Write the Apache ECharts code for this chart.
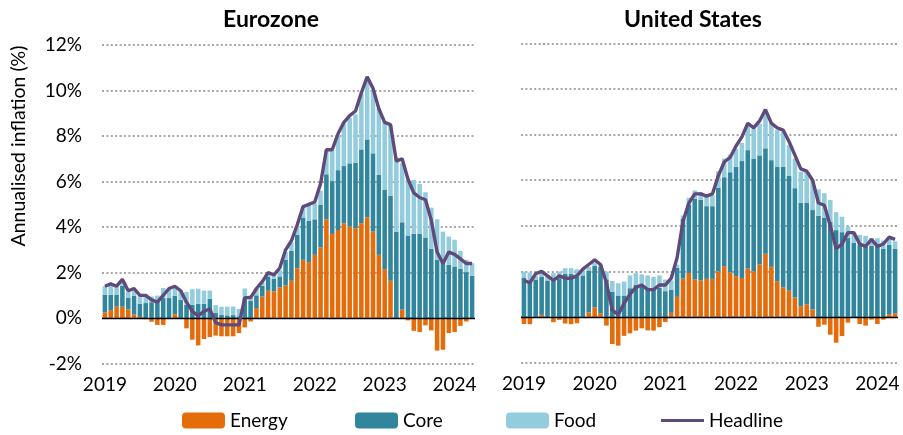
<!DOCTYPE html>
<html>
<head>
<meta charset="utf-8">
<script src="https://cdn.jsdelivr.net/npm/echarts@6/dist/echarts.min.js"></script>
<style>
    html, body {margin: 0; padding: 0; background: #fff;}
    #chart {width: 903px; height: 435px;}
</style>
</head>
<body>
<div id="chart"></div>
<script>
// monthly, Jan 2019 - Apr 2024
var years  = ['2019', '2020', '2021', '2022', '2023', '2024'];
var months = ['01', '02', '03', '04', '05', '06', '07', '08', '09', '10', '11', '12'];
var categories = [];
years.forEach(function (y) {
    months.forEach(function (m, k) {
        if (y !== '2024' || k < 4) categories.push(y + '-' + m);
    });
});

var yMin = -2, yMax = 12, yStep = 2;

// Eurozone
var ezEnergy = [
    0.25, 0.35, 0.50, 0.50, 0.38, 0.16, 0.05, -0.05, -0.16, -0.30, -0.30, 0.00,
    0.17, -0.04, -0.45, -0.95, -1.20, -0.92, -0.83, -0.77, -0.80, -0.80, -0.80, -0.66,
    -0.41, -0.15, 0.44, 0.95, 1.20, 1.17, 1.35, 1.43, 1.64, 2.19, 2.56, 2.46,
    2.78, 3.11, 4.34, 3.70, 3.87, 4.17, 4.02, 3.95, 4.17, 4.43, 3.80, 2.78,
    2.15, 1.64, -0.04, 0.37, -0.10, -0.56, -0.61, -0.32, -0.54, -1.43, -1.39, -0.66,
    -0.61, -0.34, -0.15, -0.03
];
var ezCore = [
    0.77, 0.67, 0.52, 0.92, 0.52, 0.82, 0.58, 0.66, 0.70, 0.72, 0.88, 0.88,
    0.81, 0.80, 0.58, 0.58, 0.63, 0.63, 0.85, 0.23, 0.15, 0.12, 0.13, 0.08,
    0.85, 0.75, 0.56, 0.47, 0.63, 0.56, 0.48, 1.13, 1.31, 1.46, 1.86, 1.81,
    1.56, 1.86, 1.98, 2.32, 2.63, 2.51, 2.78, 2.87, 3.24, 3.42, 3.44, 3.51,
    3.48, 3.73, 3.80, 3.84, 3.63, 3.70, 3.70, 3.52, 3.04, 2.55, 2.49, 2.34,
    2.27, 2.16, 2.02, 1.86
];
var ezFood = [
    0.38, 0.40, 0.36, 0.18, 0.27, 0.24, 0.32, 0.36, 0.25, 0.27, 0.44, 0.39,
    0.40, 0.42, 0.57, 0.69, 0.66, 0.58, 0.36, 0.34, 0.35, 0.38, 0.38, 0.32,
    0.45, 0.25, 0.30, 0.16, 0.15, 0.17, 0.27, 0.34, 0.37, 0.40, 0.48, 0.68,
    0.70, 0.63, 1.06, 1.36, 1.55, 1.87, 2.00, 2.13, 2.46, 2.65, 2.76, 2.91,
    3.00, 3.11, 3.26, 2.59, 2.44, 2.37, 2.20, 2.01, 1.81, 1.79, 1.31, 1.24,
    1.17, 0.79, 0.54, 0.55
];
var ezHeadline = [
    1.4, 1.5, 1.4, 1.7, 1.2, 1.3, 1.0, 1.0, 0.8, 0.7, 1.0, 1.3,
    1.4, 1.2, 0.7, 0.3, 0.1, 0.3, 0.4, -0.2, -0.3, -0.3, -0.3, -0.3,
    0.9, 0.9, 1.3, 1.6, 2.0, 1.9, 2.2, 3.0, 3.4, 4.1, 4.9, 5.0,
    5.1, 5.9, 7.4, 7.4, 8.1, 8.6, 8.9, 9.1, 9.9, 10.6, 10.1, 9.2,
    8.6, 8.5, 6.9, 7.0, 6.1, 5.5, 5.3, 5.2, 4.3, 2.9, 2.4, 2.9,
    2.8, 2.6, 2.4, 2.4
];

// United States
var usEnergy = [
    -0.31, -0.32, 0.00, 0.09, 0.00, -0.23, -0.13, -0.29, -0.32, -0.28, -0.03, 0.20,
    0.42, 0.16, -0.38, -1.19, -1.26, -0.83, -0.72, -0.60, -0.50, -0.59, -0.60, -0.45,
    -0.22, 0.18, 0.88, 1.68, 1.93, 1.64, 1.60, 1.67, 1.67, 2.00, 2.23, 1.96,
    1.79, 1.71, 2.12, 2.00, 2.30, 2.77, 2.20, 1.57, 1.30, 1.15, 0.85, 0.47,
    0.56, 0.33, -0.43, -0.34, -0.78, -1.13, -0.84, -0.25, 0.00, -0.31, -0.38, -0.12,
    -0.31, -0.12, 0.12, 0.15
];
var usCore = [
    1.73, 1.60, 1.62, 1.68, 1.60, 1.65, 1.70, 1.89, 1.89, 1.77, 1.82, 1.84,
    1.82, 2.04, 1.65, 1.11, 0.94, 0.94, 1.26, 1.41, 1.43, 1.23, 1.23, 1.27,
    1.13, 1.02, 1.27, 2.62, 3.00, 3.54, 3.55, 3.19, 3.19, 3.67, 3.90, 4.39,
    4.80, 5.13, 5.20, 4.95, 4.79, 4.63, 4.68, 5.03, 5.28, 5.04, 4.80, 4.54,
    4.46, 4.36, 4.44, 4.36, 4.18, 3.81, 3.72, 3.46, 3.26, 3.18, 3.08, 3.12,
    3.10, 3.00, 3.04, 2.85
];
var usFood = [
    0.26, 0.35, 0.20, 0.21, 0.24, 0.27, 0.29, 0.25, 0.25, 0.32, 0.23, 0.16,
    0.12, 0.10, 0.34, 0.47, 0.54, 0.61, 0.56, 0.51, 0.44, 0.59, 0.53, 0.55,
    0.51, 0.40, 0.15, 0.15, 0.30, 0.37, 0.33, 0.41, 0.47, 0.73, 0.82, 0.78,
    0.79, 0.80, 1.13, 1.31, 1.39, 1.50, 1.67, 1.60, 1.54, 1.35, 1.30, 1.36,
    1.35, 1.31, 1.16, 1.07, 0.95, 0.79, 0.68, 0.52, 0.41, 0.42, 0.48, 0.33,
    0.35, 0.35, 0.33, 0.32
];
var usHeadline = [
    1.6, 1.5, 1.9, 2.0, 1.8, 1.6, 1.8, 1.7, 1.7, 1.8, 2.1, 2.3,
    2.5, 2.3, 1.5, 0.3, 0.1, 0.6, 1.0, 1.3, 1.4, 1.2, 1.2, 1.4,
    1.4, 1.7, 2.6, 4.2, 5.0, 5.4, 5.4, 5.3, 5.4, 6.2, 6.8, 7.0,
    7.5, 7.9, 8.5, 8.3, 8.6, 9.1, 8.5, 8.3, 8.2, 7.7, 7.1, 6.5,
    6.4, 6.0, 5.0, 4.9, 4.0, 3.0, 3.2, 3.7, 3.7, 3.2, 3.1, 3.4,
    3.1, 3.2, 3.5, 3.4
];

var seriesNames = ['Energy', 'Core', 'Food', 'Headline'];
var colors      = ['#E46C0A', '#31859C', '#93CDDD', '#604A7B'];
var FONT        = 'Lato';

function xAxisFor(idx) {
    return {
        type       : 'category',
        gridIndex  : idx,
        data       : categories,
        boundaryGap: true,
        axisLine   : {show: false},
        axisTick   : {show: false},
        axisLabel  : {
            interval  : 11,
            margin    : 12,
            fontSize  : 19,
            fontFamily: FONT,
            color     : '#000',
            formatter : function (v) { return v.slice(0, 4); }
        },
        splitLine  : {show: false}
    };
}

function yAxisFor(idx, showLabels) {
    return {
        type     : 'value',
        gridIndex: idx,
        min      : yMin,
        max      : yMax,
        interval : yStep,
        axisLine : {show: false},
        axisTick : {show: false},
        axisLabel: {
            show      : showLabels,
            margin    : 20,
            fontSize  : 19,
            fontFamily: FONT,
            color     : '#000',
            formatter : '{value}%'
        },
        splitLine: {lineStyle: {color: '#a6a6a6', width: 2, type: [2, 2.4]}}
    };
}

function panelSeries(idx, stack, energy, core, food, headline) {
    return [
        {name: seriesNames[0], type: 'bar', stack: stack, xAxisIndex: idx, yAxisIndex: idx,
            data: energy, barCategoryGap: '22%', itemStyle: {color: colors[0]}},
        {name: seriesNames[1], type: 'bar', stack: stack, xAxisIndex: idx, yAxisIndex: idx,
            data: core, itemStyle: {color: colors[1]}},
        {name: seriesNames[2], type: 'bar', stack: stack, xAxisIndex: idx, yAxisIndex: idx,
            data: food, itemStyle: {color: colors[2]}},
        {name: seriesNames[3], type: 'line', xAxisIndex: idx, yAxisIndex: idx,
            data: headline, symbol: 'none', showSymbol: false, z: 5,
            lineStyle: {color: colors[3], width: 3.4},
            itemStyle: {color: colors[3]},
            markLine: {
                silent   : true,
                symbol   : ['none', 'none'],
                label    : {show: false},
                lineStyle: {color: '#000', width: 1.3, type: 'solid'},
                data     : [{yAxis: 0}]
            }}
    ];
}

function legendAt(name, left, isLine) {
    return {
        data      : [isLine ? {name: name, icon: 'rect'} : name],
        left      : left,
        top       : 411,
        padding   : 0,
        itemWidth : 43,
        itemHeight: isLine ? 3 : 16,
        textStyle : {fontSize: 19, fontFamily: FONT, color: '#000'}
    };
}

var myChart = echarts.init(document.getElementById('chart'));
var option  = {
    animation: false,
    color    : colors,
    grid     : [
        {left: 102, top: 45, width: 373, height: 318.6},
        {left: 521, top: 43.5, width: 377, height: 319}
    ],
    xAxis    : [xAxisFor(0), xAxisFor(1)],
    yAxis    : [yAxisFor(0, true), yAxisFor(1, false)],
    legend   : [
        legendAt('Energy', 182),
        legendAt('Core', 355),
        legendAt('Food', 506),
        legendAt('Headline', 661, true)
    ],
    graphic  : [
        {type: 'text', x: 271, y: 20,
            style: {text: 'Eurozone', fontSize: 23, fontWeight: 'bold', fontFamily: FONT, fill: '#000',
                textAlign: 'center', textVerticalAlign: 'middle', align: 'center', verticalAlign: 'middle'}},
        {type: 'text', x: 693, y: 20,
            style: {text: 'United States', fontSize: 23, fontWeight: 'bold', fontFamily: FONT, fill: '#000',
                textAlign: 'center', textVerticalAlign: 'middle', align: 'center', verticalAlign: 'middle'}},
        {type: 'text', x: 19, y: 146, rotation: Math.PI / 2,
            style: {text: 'Annualised inflation (%)', fontSize: 19.5, fontFamily: FONT, fill: '#000',
                textAlign: 'center', textVerticalAlign: 'middle', align: 'center', verticalAlign: 'middle'}}
    ],
    series   : panelSeries(0, 'ez', ezEnergy, ezCore, ezFood, ezHeadline)
        .concat(panelSeries(1, 'us', usEnergy, usCore, usFood, usHeadline))
};

myChart.setOption(option);
</script>
</body>
</html>
